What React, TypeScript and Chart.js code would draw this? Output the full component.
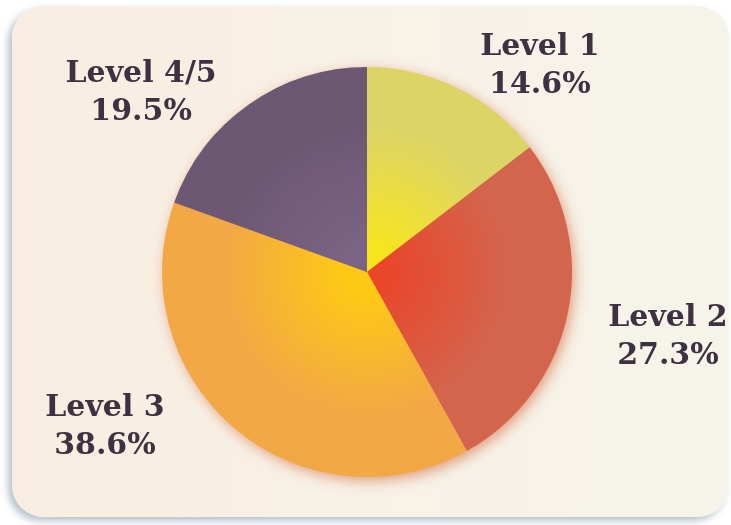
import React, { useEffect, useRef } from "react";
import { Chart, registerables } from "chart.js";

Chart.register(...registerables);

const categories: string[] = ["Level 1", "Level 2", "Level 3", "Level 4/5"];
const shares: number[] = [14.6, 27.3, 38.6, 19.5];
const valueLabels: string[] = ["14.6%", "27.3%", "38.6%", "19.5%"];

// gradient colours per slice: [centre, edge]
const innerColors: string[] = ["#f8e61c", "#e9462a", "#ffc914", "#7b6484"];
const outerColors: string[] = ["#ddd466", "#d3654e", "#f2a845", "#6d5874"];

// label anchors: angle (deg clockwise from top) and distance (x radius)
const labelAngles: number[] = [40.0, 102.2, 239.4, 308.4];
const labelDistances: number[] = [1.312, 1.502, 1.485, 1.406];

const shadowPlugin = {
  id: "pieShadow",
  beforeDatasetsDraw(chart: any) {
    const meta = chart.getDatasetMeta(0);
    const arc = meta.data[0];
    if (!arc) return;
    const { x, y, outerRadius } = arc.getProps(["x", "y", "outerRadius"], true);
    const ctx = chart.ctx;
    ctx.save();
    ctx.shadowColor = "rgba(205, 90, 40, 0.6)";
    ctx.shadowBlur = 14;
    ctx.shadowOffsetX = 3;
    ctx.shadowOffsetY = 4;
    ctx.beginPath();
    ctx.arc(x, y, outerRadius - 1, 0, Math.PI * 2);
    ctx.fillStyle = "#e39050";
    ctx.fill();
    ctx.restore();
  },
};

const labelPlugin = {
  id: "sliceLabels",
  afterDatasetsDraw(chart: any) {
    const meta = chart.getDatasetMeta(0);
    const ctx = chart.ctx;
    ctx.save();
    ctx.fillStyle = "#3e3141";
    ctx.font = "bold 30px 'DejaVu Serif', serif";
    ctx.textAlign = "center";
    ctx.textBaseline = "middle";
    meta.data.forEach((arc: any, i: number) => {
      const { x, y, outerRadius } = arc.getProps(["x", "y", "outerRadius"], true);
      const a = (labelAngles[i] * Math.PI) / 180;
      const d = outerRadius * labelDistances[i];
      const lx = x + Math.sin(a) * d;
      const ly = y - Math.cos(a) * d;
      ctx.fillText(categories[i], lx, ly - 19);
      ctx.fillText(valueLabels[i], lx, ly + 19);
    });
    ctx.restore();
  },
};

export default function App() {
  const ref = useRef<HTMLCanvasElement | null>(null);

  useEffect(() => {
    if (!ref.current) return;
    const makeGradient = (context: any) => {
      const i = context.dataIndex ?? 0;
      const chart = context.chart;
      const area = chart.chartArea;
      if (!area) return outerColors[i];
      const cx = (area.left + area.right) / 2;
      const cy = (area.top + area.bottom) / 2;
      const r = Math.min(area.right - area.left, area.bottom - area.top) / 2;
      const g = chart.ctx.createRadialGradient(cx, cy, 0, cx, cy, r);
      g.addColorStop(0, innerColors[i]);
      g.addColorStop(0.1, innerColors[i]);
      g.addColorStop(0.7, outerColors[i]);
      g.addColorStop(1, outerColors[i]);
      return g;
    };
    const chart = new Chart(ref.current, {
      type: "pie",
      data: {
        labels: categories,
        datasets: [
          {
            data: shares,
            backgroundColor: makeGradient as any,
            borderWidth: 0,
          },
        ],
      },
      options: {
        animation: false,
        responsive: false,
        events: [],
        layout: { padding: { left: 162, right: 159, top: 67, bottom: 48 } },
        plugins: {
          legend: { display: false },
          tooltip: { enabled: false },
        },
      },
      plugins: [shadowPlugin, labelPlugin],
    });
    return () => chart.destroy();
  }, []);

  return (
    <div
      style={{
        position: "absolute",
        left: 0,
        top: 0,
        width: 731,
        height: 525,
        background: "#ffffff",
        overflow: "hidden",
      }}
    >
      <div
        style={{
          position: "absolute",
          left: 12,
          top: 6,
          width: 717,
          height: 511,
          borderRadius: 32,
          background: "linear-gradient(90deg, #f8ede0 0%, #f8f1e6 45%, #f6f4ea 100%)",
          boxShadow: "-4px 4px 7px rgba(110, 135, 155, 0.5)",
        }}
      />
      <canvas
        ref={ref}
        width={731}
        height={525}
        style={{ position: "absolute", left: 0, top: 0 }}
      />
    </div>
  );
}
